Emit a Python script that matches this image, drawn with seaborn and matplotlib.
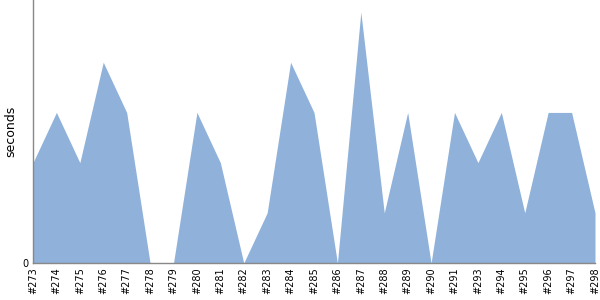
import matplotlib
matplotlib.use("Agg")
import matplotlib.pyplot as plt
import seaborn as sns
import pandas as pd

builds = ["#273", "#274", "#275", "#276", "#277", "#278", "#279", "#280", "#281",
          "#282", "#283", "#284", "#285", "#286", "#287", "#288", "#289", "#290",
          "#291", "#293", "#294", "#295", "#296", "#297", "#298"]
seconds = [2, 3, 2, 4, 3, 0, 0, 3, 2, 0, 1, 4, 3, 0, 5, 1, 3, 0, 3, 2, 3, 1, 3, 3, 1]

df = pd.DataFrame({"build": builds, "seconds": seconds, "idx": range(len(builds))})

sns.set_style("white")
plt.rcParams["text.color"] = "black"
plt.rcParams["axes.labelcolor"] = "black"
plt.rcParams["xtick.color"] = "black"
plt.rcParams["ytick.color"] = "black"

fig = plt.figure(figsize=(6, 3), dpi=100)
ax = fig.add_axes([33/600, 37/300, 562/600, 263/300])

sns.lineplot(data=df, x="idx", y="seconds", ax=ax, color="#8fb1da", linewidth=0)
ax.fill_between(df["idx"], df["seconds"], 0, color="#8fb1da", linewidth=0)

ax.set_xlim(0, len(builds) - 1)
ax.set_ylim(0, 5.24)
ax.set_xticks(df["idx"])
ax.set_xticklabels(builds, rotation=90, fontsize=7)
ax.set_yticks([0])
ax.set_yticklabels(["0"], fontsize=7)
ax.tick_params(axis="both", length=0, pad=3, colors="black")
ax.set_xlabel("")
ax.set_ylabel("seconds", fontsize=9, color="black")
for s in ["top", "right"]:
    ax.spines[s].set_visible(False)
for s in ["left", "bottom"]:
    ax.spines[s].set_color("#888888")
    ax.spines[s].set_linewidth(1)

fig.savefig("out.png", dpi=100)
